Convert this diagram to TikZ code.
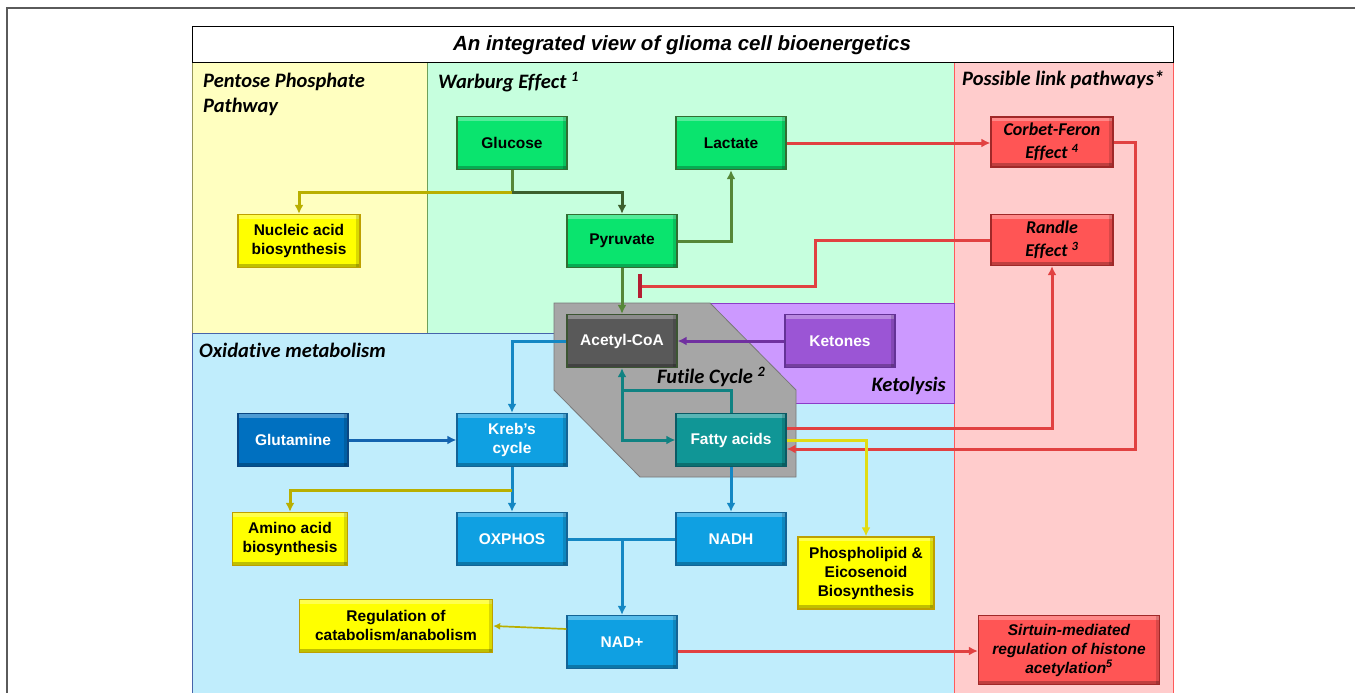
\documentclass[tikz,border=0pt]{standalone}
\usepackage{fontspec}
\setmainfont{Liberation Sans}
\newfontfamily\calib[Ligatures=NoCommon]{Carlito}
\usepackage{xcolor}
\usepackage{tikz}
\usetikzlibrary{arrows.meta, positioning, calc}

% panel colours
\definecolor{ppfill}{RGB}{255,255,192}
\definecolor{ppline}{RGB}{150,150,90}
\definecolor{wbfill}{RGB}{198,255,222}
\definecolor{wbline}{RGB}{110,160,90}
\definecolor{oxfill}{RGB}{192,237,252}
\definecolor{oxline}{RGB}{70,100,170}
\definecolor{lkfill}{RGB}{255,204,204}
\definecolor{lkline}{RGB}{255,90,90}
\definecolor{ktfill}{RGB}{204,153,255}
\definecolor{ktline}{RGB}{140,60,200}
\definecolor{fcfill}{RGB}{166,166,166}
\definecolor{fcline}{RGB}{120,120,120}
\definecolor{framegray}{RGB}{90,90,90}
% box colours
\definecolor{gboxc}{RGB}{10,228,110}
\definecolor{gboxl}{RGB}{50,110,50}
\definecolor{yboxc}{RGB}{255,255,0}
\definecolor{yboxl}{RGB}{190,160,0}
\definecolor{bboxc}{RGB}{15,160,226}
\definecolor{bboxl}{RGB}{20,100,150}
\definecolor{qboxc}{RGB}{0,112,192}
\definecolor{qboxl}{RGB}{10,70,130}
\definecolor{tboxc}{RGB}{16,150,150}
\definecolor{tboxl}{RGB}{10,90,100}
\definecolor{aboxc}{RGB}{89,89,89}
\definecolor{aboxl}{RGB}{60,85,50}
\definecolor{kboxc}{RGB}{155,85,213}
\definecolor{kboxl}{RGB}{100,50,150}
\definecolor{rboxc}{RGB}{255,85,85}
\definecolor{rboxl}{RGB}{160,40,40}
% connector colours
\definecolor{arG}{RGB}{85,135,55}
\definecolor{arGd}{RGB}{60,95,45}
\definecolor{arY}{RGB}{185,175,0}
\definecolor{arYl}{RGB}{225,220,20}
\definecolor{arB}{RGB}{20,135,195}
\definecolor{arQ}{RGB}{20,100,175}
\definecolor{arT}{RGB}{16,130,130}
\definecolor{arP}{RGB}{112,48,160}
\definecolor{arR}{RGB}{225,65,65}
\definecolor{barR}{RGB}{180,30,50}

\newcommand{\boxfont}{\bfseries\fontsize{15.5}{19}\selectfont}
\newcommand{\linkfont}{\calib\bfseries\itshape\fontsize{18}{23}\selectfont}
\newcommand{\sirtfont}{\bfseries\itshape\fontsize{15.5}{19}\selectfont}
\newcommand{\panelfont}{\calib\bfseries\itshape\fontsize{20.5}{25}\selectfont}

\tikzset{bevel/.style={path picture={
  \fill[white,opacity=.3] (path picture bounding box.north west) rectangle ([yshift=-4pt]path picture bounding box.north east);
  \fill[black,opacity=.25] (path picture bounding box.south west) rectangle ([yshift=4pt]path picture bounding box.south east);
  \fill[black,opacity=.15] (path picture bounding box.north east) rectangle ([xshift=-4pt]path picture bounding box.south east);
}}}
\tikzstyle{box} = [rectangle, draw, line width=1.3pt, align=center, inner sep=1pt, minimum width=110pt, minimum height=53pt, font=\boxfont, bevel]
\tikzstyle{sugarbox} = [box, fill=gboxc, draw=gboxl]
\tikzstyle{synthbox} = [box, fill=yboxc, draw=yboxl]
\tikzstyle{oxbox} = [box, fill=bboxc, draw=bboxl, text=white]
\tikzstyle{glutbox} = [box, fill=qboxc, draw=qboxl, text=white]
\tikzstyle{fattybox} = [box, fill=tboxc, draw=tboxl, text=white]
\tikzstyle{acetylbox} = [box, fill=aboxc, draw=aboxl, text=white]
\tikzstyle{ketonebox} = [box, fill=kboxc, draw=kboxl, text=white]
\tikzstyle{linkbox} = [box, fill=rboxc, draw=rboxl, font=\linkfont]
\tikzstyle{plabel} = [inner sep=0pt, anchor=west, align=left, font=\panelfont]
\tikzstyle{arrow} = [draw, -{Latex[length=9pt, width=9pt]}, line width=3pt]
\tikzstyle{link} = [draw, line width=3pt]
\tikzstyle{thinarrow} = [draw, -{Latex[length=7pt, width=7pt]}, line width=1.7pt]

\begin{document}
\begin{tikzpicture}[x=1pt, y=-1pt]
    \useasboundingbox (0,0) rectangle (1355,693);
    \draw[framegray, line width=1.3pt] (7,700) -- (7,8) -- (1360,8);

    % panels
    \draw[fill=ppfill, draw=ppline, line width=1pt] (192,63) rectangle (427,333);
    \draw[fill=wbfill, draw=wbline, line width=1pt] (427,63) rectangle (954,333);
    \draw[fill=oxfill, draw=oxline, line width=1pt] (192,333) rectangle (954,700);
    \draw[fill=lkfill, draw=lkline, line width=1pt] (954,63) rectangle (1173,700);
    \draw[fill=ktfill, draw=ktline, line width=1pt] (700,303) rectangle (954,403);
    \draw[fill=fcfill, draw=fcline, line width=0.8pt] (554,303) -- (710,303) -- (796,390) -- (796,477) -- (640,477) -- (554,390) -- cycle;
    \draw[fill=white, draw=black, line width=1pt] (192,27) rectangle (1173,63);

    \node[font=\bfseries\itshape\fontsize{20.5}{24}\selectfont] (title) at (682,45) {An integrated view of glioma cell bioenergetics};
    \node[plabel] (pplabel) at (203,94) {Pentose Phosphate\\Pathway};
    \node[plabel] (wblabel) at (438,82) {Warburg Effect \textsuperscript{1}};
    \node[plabel] (lklabel) at (962,80) {Possible link pathways*};
    \node[plabel] (oxlabel) at (199,350) {Oxidative metabolism};
    \node[plabel] (fclabel) at (657,377) {Futile Cycle \textsuperscript{2}};
    \node[plabel, anchor=east] (ktlabel) at (946,386) {Ketolysis};

    % metabolites
    \node[sugarbox] (glucose) at (512,143) {Glucose};
    \node[sugarbox] (lactate) at (731,143) {Lactate};
    \node[sugarbox] (pyruvate) at (622,241) {Pyruvate};
    \node[synthbox, minimum width=122pt] (nucleic) at (299,241) {Nucleic acid\\biosynthesis};
    \node[acetylbox] (acetyl) at (622,341) {Acetyl-CoA};
    \node[ketonebox] (ketones) at (840,341) {Ketones};
    \node[glutbox] (glutamine) at (293,440) {Glutamine};
    \node[oxbox] (kreb) at (512,440) {Kreb’s\\cycle};
    \node[fattybox] (fatty) at (731,440) {Fatty acids};
    \node[synthbox, minimum width=115pt] (amino) at (290,539) {Amino acid\\biosynthesis};
    \node[oxbox] (oxphos) at (512,539) {OXPHOS};
    \node[oxbox] (nadh) at (731,539) {NADH};
    \node[synthbox, minimum width=136pt, minimum height=72pt] (phospho) at (866,573) {Phospholipid \&\\Eicosenoid\\Biosynthesis};
    \node[synthbox, minimum width=193pt] (regul) at (396,626) {Regulation of\\catabolism/anabolism};
    \node[oxbox] (nadplus) at (622,642) {NAD+};
    \node[linkbox, minimum width=122pt, minimum height=50pt] (corbet) at (1052,142) {Corbet-Feron\\Effect \textsuperscript{4}};
    \node[linkbox, minimum width=122pt, minimum height=51pt] (randle) at (1052,240) {Randle\\Effect \textsuperscript{3}};
    \node[linkbox, font=\sirtfont, minimum width=181pt, minimum height=69pt] (sirtuin) at (1069,650) {Sirtuin-mediated\\regulation of histone\\acetylation\textsuperscript{5}};

    % connectors
    \coordinate (gsplit) at (512,192);
    \coordinate (rbend) at (815,286);
    \coordinate (inhib) at (640,286);
    \coordinate (fsplit) at (622,390);
    \coordinate (cbend) at (1135,449);
    \coordinate (ksplit) at (512,490);
    \coordinate (ojoin) at (622,539);

    \draw[link, arG] (glucose.south) -- (gsplit);
    \draw[arrow, arY] (gsplit) -| (nucleic.north);
    \draw[arrow, arGd] (gsplit) -| (pyruvate.north);
    \draw[arrow, arG] (pyruvate.east) -| (lactate.south);
    \draw[arrow, arG] (pyruvate.south) -- (acetyl.north);
    \draw[arrow, arR] (lactate.east) -- (corbet.west |- lactate.east);
    \draw[link, arR] (randle.west) -| (rbend) -- (inhib);
    \draw[barR, line width=3.5pt] ([yshift=12pt]inhib) -- ([yshift=-12pt]inhib);
    \draw[arrow, arP] (ketones.west) -- (acetyl.east);
    \draw[arrow, arB] (acetyl.west) -| (kreb.north);
    \draw[arrow, arQ] (glutamine.east) -- (kreb.west);
    \draw[arrow, arT] (fatty.north) |- (fsplit) -- (acetyl.south);
    \draw[arrow, arT] (fsplit) |- (fatty.west);
    \draw[arrow, arR] ([yshift=12pt]fatty.east) -| (randle.south);
    \draw[arrow, arR] (corbet.east) -| (cbend) -- (fatty.east |- cbend);
    \draw[arrow, arYl] (fatty.east) -| (phospho.north);
    \draw[arrow, arB] (fatty.south) -- (nadh.north);
    \draw[arrow, arB] (kreb.south) -- (oxphos.north);
    \draw[arrow, arY] (ksplit) -| (amino.north);
    \draw[link, arB] (oxphos.east) -- (nadh.west);
    \draw[arrow, arB] (ojoin) -- (nadplus.north);
    \draw[thinarrow, arY] ([yshift=13pt]nadplus.west) -- (regul.east);
    \draw[arrow, arR] ([yshift=-9pt]nadplus.east) -- (sirtuin.west |- 0,651);
\end{tikzpicture}
\end{document}
